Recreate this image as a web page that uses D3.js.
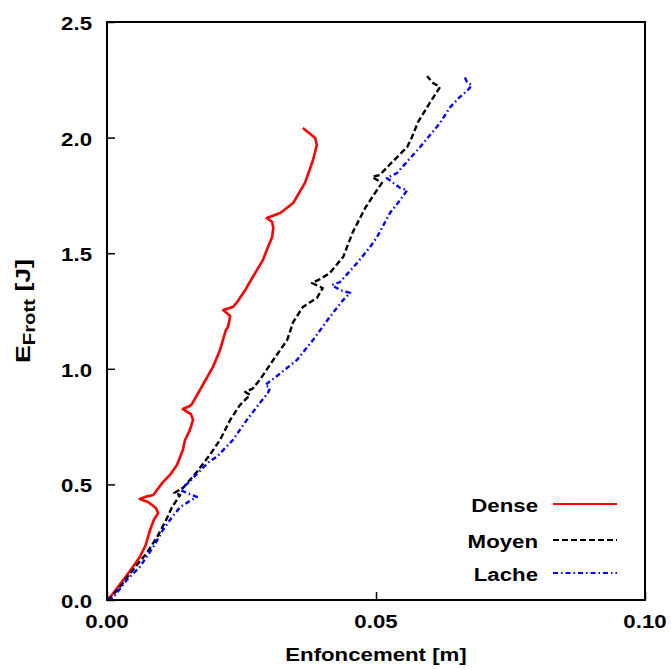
<!DOCTYPE html>
<html><head><meta charset="utf-8">
<script src="https://cdn.jsdelivr.net/npm/d3@7/dist/d3.min.js"></script>
<style>body{margin:0;background:#fff}svg{display:block}</style>
</head><body>
<svg id="c" width="671" height="670"></svg>
<script>
// ---- data (Enfoncement [m] vs E_Frott [J]) ----
const denseX = [0.0000,0.0006,0.0019,0.0033,0.0048,0.0061,0.0072,0.0080,0.0087,0.0095,0.0091,0.0076,0.0061,0.0071,0.0086,0.0104,0.0117,0.0130,0.0141,0.0145,0.0154,0.0160,0.0156,0.0141,0.0154,0.0158,0.0178,0.0197,0.0210,0.0221,0.0225,0.0229,0.0216,0.0234,0.0242,0.0257,0.0271,0.0290,0.0297,0.0307,0.0309,0.0307,0.0297,0.0322,0.0346,0.0368,0.0383,0.0390,0.0387,0.0364];
const denseY = [0.000,0.013,0.052,0.095,0.143,0.186,0.238,0.303,0.346,0.376,0.398,0.424,0.437,0.446,0.454,0.510,0.541,0.584,0.649,0.692,0.735,0.779,0.804,0.826,0.839,0.848,0.930,1.008,1.081,1.168,1.181,1.228,1.254,1.267,1.289,1.341,1.397,1.471,1.514,1.570,1.609,1.635,1.652,1.674,1.717,1.804,1.903,1.968,1.998,2.042];

const moyenX = [0.0000,0.0006,0.0024,0.0048,0.0074,0.0093,0.0108,0.0121,0.0132,0.0136,0.0125,0.0141,0.0167,0.0191,0.0210,0.0229,0.0247,0.0266,0.0257,0.0270,0.0284,0.0309,0.0335,0.0346,0.0364,0.0390,0.0401,0.0381,0.0396,0.0414,0.0439,0.0457,0.0480,0.0498,0.0511,0.0493,0.0507,0.0530,0.0558,0.0567,0.0578,0.0600,0.0619,0.0606,0.0595];
const moyenY = [0.000,0.009,0.056,0.130,0.203,0.272,0.337,0.402,0.441,0.454,0.463,0.484,0.554,0.627,0.692,0.779,0.843,0.887,0.900,0.913,0.952,1.038,1.125,1.202,1.267,1.306,1.349,1.371,1.388,1.414,1.484,1.592,1.696,1.760,1.804,1.830,1.838,1.894,1.959,2.003,2.067,2.150,2.219,2.236,2.266];

const lacheX = [0.0002,0.0011,0.0037,0.0061,0.0086,0.0104,0.0121,0.0136,0.0151,0.0167,0.0145,0.0136,0.0149,0.0167,0.0191,0.0204,0.0234,0.0260,0.0284,0.0299,0.0303,0.0294,0.0316,0.0353,0.0383,0.0414,0.0439,0.0452,0.0433,0.0418,0.0433,0.0465,0.0489,0.0502,0.0526,0.0545,0.0558,0.0545,0.0520,0.0539,0.0582,0.0619,0.0638,0.0656,0.0671,0.0678,0.0669,0.0665];
const lacheY = [0.000,0.009,0.087,0.143,0.229,0.303,0.359,0.402,0.424,0.446,0.467,0.476,0.502,0.545,0.601,0.619,0.692,0.779,0.852,0.895,0.917,0.930,0.969,1.038,1.125,1.224,1.298,1.328,1.341,1.362,1.375,1.458,1.527,1.570,1.674,1.730,1.773,1.782,1.825,1.847,1.959,2.063,2.132,2.176,2.206,2.227,2.240,2.262];

const seriesNames = ["Dense","Moyen","Lache"];
const xTicks = [0, 0.05, 0.10];
const xTickLabels = ["0.00","0.05","0.10"];
const yTicks = [0, 0.5, 1.0, 1.5, 2.0, 2.5];
const yTickLabels = ["0.0","0.5","1.0","1.5","2.0","2.5"];
const xTitle = "Enfoncement [m]";
const yTitleMain = "E", yTitleSub = "Frott", yTitleUnit = " [J]";

// ---- layout / style ----
const L = 107, R = 645, T = 22, B = 600;
const FONT = "'Liberation Sans', Arial, Helvetica, sans-serif";
const SX = 1.27; // horizontal stretch of lettering seen in the reference
const styles = [
  {color:"#ff0000", dash:null, w:2.6, lw:2},
  {color:"#000000", dash:"6,3", w:2.4, lw:1.8},
  {color:"#0000ff", dash:"5,3,1.5,3", w:2.4, lw:1.8}
];

const svg = d3.select("#c");
const x = d3.scaleLinear().domain([0, 0.1]).range([L, R]);
const y = d3.scaleLinear().domain([0, 2.5]).range([B, T]);

function txt(g, px, py, s, anchor, size) {
  return g.append("text")
    .attr("transform", `translate(${px},${py}) scale(${SX},1)`)
    .attr("text-anchor", anchor)
    .attr("font-family", FONT).attr("font-weight", "bold")
    .attr("font-size", size).attr("fill", "#000").text(s);
}

// series
const series = [
  d3.zip(denseX, denseY),
  d3.zip(moyenX, moyenY),
  d3.zip(lacheX, lacheY)
];
const line = d3.line().x(d => x(d[0])).y(d => y(d[1])).curve(d3.curveLinear);
const plot = svg.append("g");
series.forEach((s, i) => {
  const p = plot.append("path").datum(s).attr("d", line)
    .attr("fill", "none").attr("stroke", styles[i].color)
    .attr("stroke-width", styles[i].w).attr("stroke-linejoin", "round").attr("stroke-linecap", "butt");
  if (styles[i].dash) p.attr("stroke-dasharray", styles[i].dash);
});

// axes (inward ticks)
svg.append("g").attr("transform", `translate(0,${B})`)
  .call(d3.axisBottom(x).tickValues(xTicks).tickSize(-8).tickFormat(""))
  .call(g => { g.select(".domain").remove(); g.selectAll("line").attr("stroke", "#000").attr("stroke-width", 1.5); });
svg.append("g").attr("transform", `translate(${L},0)`)
  .call(d3.axisLeft(y).tickValues(yTicks).tickSize(-8).tickFormat(""))
  .call(g => { g.select(".domain").remove(); g.selectAll("line").attr("stroke", "#000").attr("stroke-width", 1.5); });

// frame
svg.append("rect").attr("x", L).attr("y", T).attr("width", R - L).attr("height", B - T)
  .attr("fill", "none").attr("stroke", "#000").attr("stroke-width", 2);

// tick labels
const lab = svg.append("g");
xTicks.forEach((v, i) => txt(lab, x(v), 628, xTickLabels[i], "middle", 17.5));
yTicks.forEach((v, i) => txt(lab, 92, y(v) + 8, yTickLabels[i], "end", 17.5));

// axis titles
txt(lab, (L + R) / 2, 661, xTitle, "middle", 17.5);
const yt = lab.append("text")
  .attr("transform", `translate(30,${(T + B) / 2}) rotate(-90) scale(${SX},1)`)
  .attr("text-anchor", "middle")
  .attr("font-family", FONT).attr("font-weight", "bold").attr("font-size", 21).attr("fill", "#000");
yt.append("tspan").text(yTitleMain);
yt.append("tspan").attr("font-size", 16).attr("dy", 5).text(yTitleSub);
yt.append("tspan").attr("dy", -5).text(yTitleUnit);

// legend
const legY = [504, 540, 573];
const leg = svg.append("g");
seriesNames.forEach((n, i) => {
  txt(leg, 538, legY[i] + 8, n, "end", 17.5);
  const l = leg.append("line").attr("x1", 553).attr("x2", 617).attr("y1", legY[i]).attr("y2", legY[i])
    .attr("stroke", styles[i].color).attr("stroke-width", styles[i].lw);
  if (styles[i].dash) l.attr("stroke-dasharray", styles[i].dash);
});
</script>
</body></html>
